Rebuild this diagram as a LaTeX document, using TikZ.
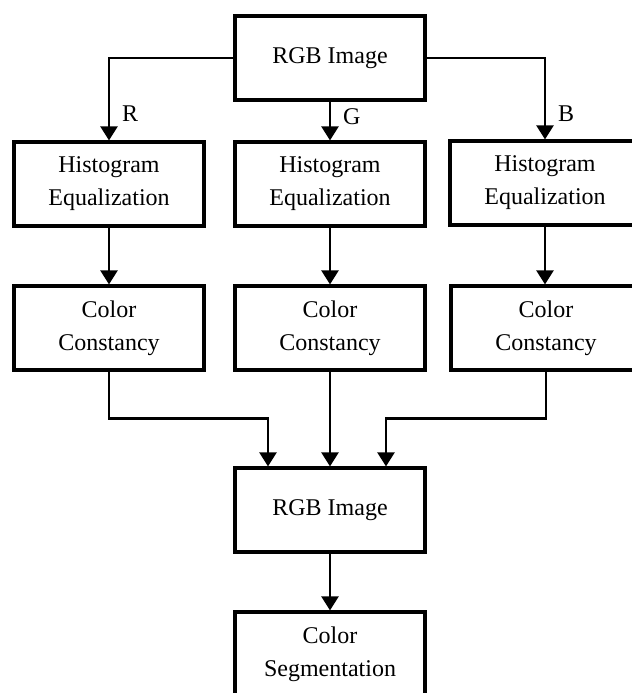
\documentclass[tikz,border=0pt]{standalone}
\usepackage{fontspec}
\setmainfont{Liberation Serif}
\usetikzlibrary{arrows.meta}

\begin{document}
\begin{tikzpicture}[x=0.5pt,y=-0.5pt,
        box/.style={draw,line width=1.6pt,minimum width=95pt,minimum height=42pt,
            inner sep=0pt,align=center,font=\fontsize{12}{16.5}\selectfont},
        arr/.style={line width=1.2pt,-{Triangle[length=7pt,width=8.5pt]}},
        chan/.style={right,inner sep=1pt,xshift=5pt,font=\fontsize{12}{14}\selectfont}]
    \clip (0,0) rectangle (632,693);
    % input image and one column per channel
    \node[box] (src) at (330,58) {RGB Image};
    \node[box] (histR) at (109,184) {Histogram\\Equalization};
    \node[box] (histG) at (330,184) {Histogram\\Equalization};
    \node[box] (histB) at (545,183) {Histogram\\Equalization};
    \node[box] (ccR) at (109,328) {Color\\Constancy};
    \node[box] (ccG) at (330,328) {Color\\Constancy};
    \node[box] (ccB) at (546,328) {Color\\Constancy};
    \node[box] (rgb) at (330,510) {RGB Image};
    \node[box] (seg) at (330,654) {Color\\Segmentation};
    \coordinate (inR) at ([xshift=-31pt]rgb.north);
    \coordinate (inB) at ([xshift=28pt]rgb.north);
    % split into R, G, B
    \draw[arr] (src.west) -| (histR.north) node[chan,pos=0.84]{R};
    \draw[arr] (src.south) -- (histG.north) node[chan,pos=0.4]{G};
    \draw[arr] (src.east) -| (histB.north) node[chan,pos=0.84]{B};
    \draw[arr] (histR) -- (ccR);
    \draw[arr] (histG) -- (ccG);
    \draw[arr] (histB.south) -- (histB.south |- ccB.north);
    % merge the channels again
    \draw[arr] (ccR.south) -- ++(0,47) -| (inR);
    \draw[arr] (ccG) -- (rgb);
    \draw[arr] (ccB.south) -- ++(0,47) -| (inB);
    \draw[arr] (rgb) -- (seg);
\end{tikzpicture}
\end{document}
